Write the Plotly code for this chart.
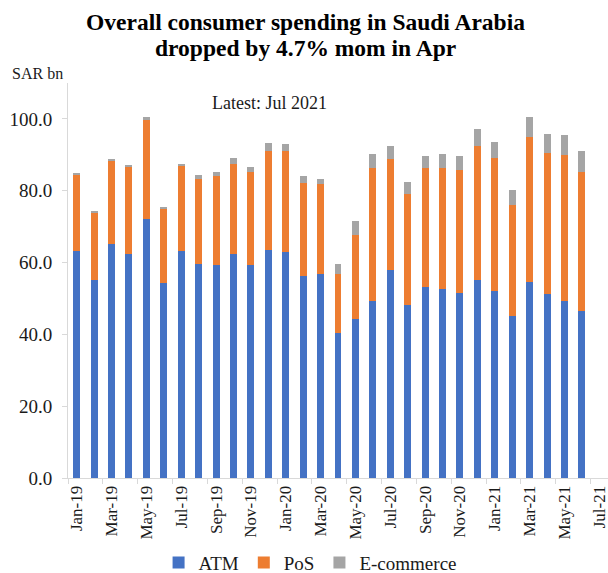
import plotly.graph_objects as go

# Monthly card spending, SAR bn (stacked components)
months = ["Jan-19", "Feb-19", "Mar-19", "Apr-19", "May-19", "Jun-19", "Jul-19", "Aug-19",
          "Sep-19", "Oct-19", "Nov-19", "Dec-19", "Jan-20", "Feb-20", "Mar-20", "Apr-20",
          "May-20", "Jun-20", "Jul-20", "Aug-20", "Sep-20", "Oct-20", "Nov-20", "Dec-20",
          "Jan-21", "Feb-21", "Mar-21", "Apr-21", "May-21", "Jun-21", "Jul-21"]

atm = [63.3, 55.2, 65.1, 62.4, 72.1, 54.4, 63.3, 59.6, 59.3, 62.4, 59.3, 63.5, 62.8, 56.3,
       56.9, 40.5, 44.4, 49.4, 57.8, 48.1, 53.1, 52.7, 51.6, 55.2, 52.0, 45.1, 54.7, 51.3,
       49.3, 46.6]
pos = [21.1, 18.7, 23.4, 24.3, 27.7, 20.6, 23.6, 23.7, 24.7, 25.0, 25.9, 27.7, 28.4, 25.8,
       24.9, 16.2, 23.4, 36.9, 31.1, 31.0, 33.3, 33.6, 34.2, 37.3, 37.0, 30.8, 40.4, 39.2,
       40.6, 38.6]
ecom = [0.3, 0.3, 0.4, 0.4, 0.8, 0.4, 0.6, 1.1, 1.2, 1.6, 1.5, 2.1, 1.7, 2.0,
        1.5, 3.0, 3.8, 3.9, 3.6, 3.4, 3.4, 3.9, 4.0, 4.6, 4.6, 4.4, 5.5, 5.4,
        5.6, 6.0]

title_lines = ["Overall consumer spending in Saudi Arabia", "dropped by 4.7% mom in Apr"]

serif = "Liberation Serif, Times New Roman, serif"

fig = go.Figure()
for name, vals, color in [("ATM", atm, "#4472C4"), ("PoS", pos, "#ED7D31"),
                          ("E-commerce", ecom, "#A5A5A5")]:
    fig.add_trace(go.Bar(x=months[:len(vals)], y=vals, name=name, marker_color=color,
                         marker_line_width=0))

fig.update_layout(
    barmode="stack",
    bargap=0.6,
    width=608, height=573,
    margin=dict(l=68, r=0, t=83, b=95, autoexpand=False),
    paper_bgcolor="white", plot_bgcolor="white",
    font=dict(family=serif, color="#1a1a1a"),
    showlegend=True,
    legend=dict(orientation="h", xref="container", yref="container",
                x=0.51, xanchor="center", y=0.018, yanchor="middle",
                font=dict(size=19, family=serif), itemwidth=30,
                traceorder="normal"),
    xaxis=dict(type="category", categoryorder="array", categoryarray=months,
               range=[-0.5, len(months) - 0.5], automargin=False,
               tickmode="linear", tick0=0, dtick=2, tickangle=-90,
               ticks="outside", tickson="boundaries", ticklen=5, tickcolor="#D9D9D9",
               showline=True, linecolor="#D9D9D9", linewidth=1,
               showgrid=False, tickfont=dict(size=17, family=serif)),
    yaxis=dict(range=[0, 110], tickvals=[0, 20, 40, 60, 80, 100], tickformat=".1f",
               automargin=False,
               ticks="outside", ticklen=5, tickcolor="#D9D9D9", ticklabelstandoff=6,
               showline=True, linecolor="#D9D9D9", linewidth=1,
               showgrid=False, zeroline=False, tickfont=dict(size=19, family=serif)),
)

# Two-line bold heading
for text, ypos in zip(title_lines, [1.154, 1.089]):
    fig.add_annotation(text=f"<b>{text}</b>", x=0.439, y=ypos, xref="paper", yref="paper",
                       xanchor="center", yanchor="middle", showarrow=False,
                       font=dict(size=23.5, family=serif, color="#000000"))

fig.add_annotation(text="SAR bn", x=-0.107, y=1.025, xref="paper", yref="paper",
                   xanchor="left", yanchor="middle", showarrow=False,
                   font=dict(size=16, family=serif))
fig.add_annotation(text="Latest: Jul 2021", x=0.374, y=0.949, xref="paper", yref="paper",
                   xanchor="center", yanchor="middle", showarrow=False,
                   font=dict(size=18, family=serif))

fig.write_html("out.html")
